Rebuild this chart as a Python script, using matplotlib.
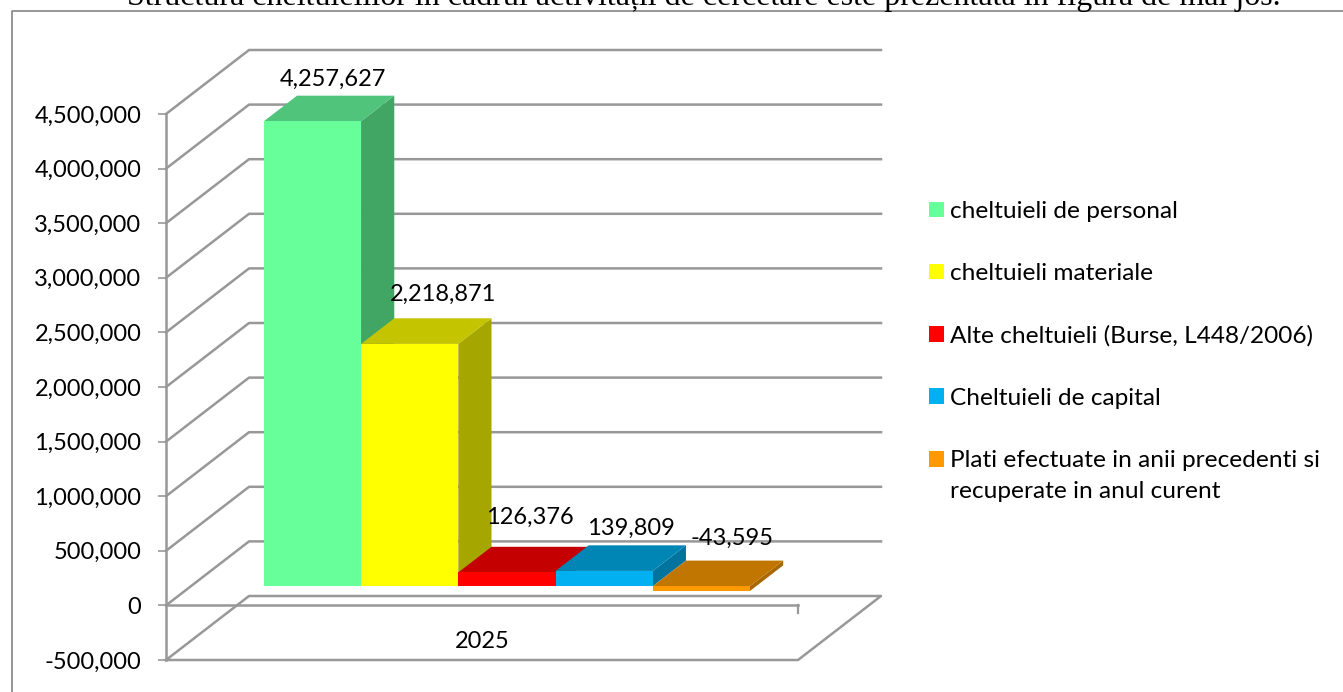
import matplotlib
matplotlib.use("Agg")
import matplotlib.pyplot as plt
from matplotlib.legend_handler import HandlerPatch
from matplotlib.patches import Patch, Polygon, Rectangle

# Data
years = ["2025"]
series_names = [
    "cheltuieli de personal",
    "cheltuieli materiale",
    "Alte cheltuieli (Burse, L448/2006)",
    "Cheltuieli de capital",
    "Plati efectuate in anii precedenti si\nrecuperate in anul curent",
]
values = [4257627, 2218871, 126376, 139809, -43595]
y_ticks = [-500000, 0, 500000, 1000000, 1500000, 2000000, 2500000, 3000000, 3500000, 4000000, 4500000]
page_text = "Structura cheltuielilor în cadrul activității de cercetare este prezentată în figura de mai jos."

# front, top and side colours of each bar
front_colors = ["#66FF99", "#FFFF00", "#FF0000", "#00B0F0", "#FF9900"]
top_colors = ["#50C47B", "#C4C400", "#C40000", "#0086B4", "#C07600"]
side_colors = ["#41A564", "#A6A600", "#A60000", "#00749F", "#A86700"]

# label shift from the bar's front top centre, in pixels
label_shift = [(20, 42), (33, 50), (23, 55), (27, 43), (31, 48)]

GRID = "#989898"
W, H = 1343, 692

plt.rcParams["font.family"] = ["Lato", "DejaVu Sans"]

fig = plt.figure(figsize=(W / 100, H / 100), dpi=100)

# axes box is the front plane of the 3D chart
ax = fig.add_axes([166 / W, 1 - 660 / H, (798 - 166) / W, (660 - 114) / H])
ax.set_xlim(0, 6.5)
ax.set_ylim(-500000, 4500000)
ax.patch.set_visible(False)

# oblique depth: d=0 front, d=1 back wall
DX = 83 / 97.2
DY = 64 / 54.6 * 500000


def proj(x, v, d):
    return x + d * DX, v + d * DY


def line(pts, lw=1.8, zorder=1):
    xs = [p[0] for p in pts]
    ys = [p[1] for p in pts]
    ax.plot(xs, ys, color=GRID, lw=lw, clip_on=False, zorder=zorder, solid_capstyle="projecting")


# gridlines on side wall and back wall
for t in y_ticks[1:]:
    line([proj(0, t, 0), proj(0, t, 1), proj(6.5, t, 1)])

# floor
bottom = y_ticks[0]
line([proj(0, bottom, 0), proj(6.5, bottom, 0), proj(6.5, bottom, 1), proj(0, bottom, 1), proj(0, bottom, 0)])
# front edge at zero, with the end tick
line([proj(0, 0, 0), proj(6.5, 0, 0)])
ax.plot([6.5, 6.5], [0, -73000], color=GRID, lw=1.6, clip_on=False, zorder=1)

# bars, from left to right
D0, D1 = 0.3, 0.7
for i, v in enumerate(values):
    x0 = 0.75 + i
    x1 = x0 + 1
    hi = max(v, 0)
    lo = min(v, 0)
    side = [proj(x1, lo, D0), proj(x1, hi, D0), proj(x1, hi, D1), proj(x1, lo, D1)]
    top = [proj(x0, hi, D0), proj(x1, hi, D0), proj(x1, hi, D1), proj(x0, hi, D1)]
    front = [proj(x0, lo, D0), proj(x1, lo, D0), proj(x1, hi, D0), proj(x0, hi, D0)]
    ax.add_patch(Polygon(side, fc=side_colors[i], ec="none", clip_on=False, zorder=3))
    ax.add_patch(Polygon(top, fc=top_colors[i], ec="none", clip_on=False, zorder=3))
    ax.add_patch(Polygon(front, fc=front_colors[i], ec="none", clip_on=False, zorder=3))
    ax.annotate(f"{v:,}", xy=proj(x0 + 0.5, hi, D0),
                xytext=(label_shift[i][0] * 0.72, label_shift[i][1] * 0.72),
                textcoords="offset points", ha="center", va="center",
                fontsize=17, color="black", zorder=5, annotation_clip=False)

# axis
for s in ["top", "right", "bottom"]:
    ax.spines[s].set_visible(False)
ax.spines["left"].set_color(GRID)
ax.spines["left"].set_linewidth(1.8)
ax.set_yticks(y_ticks)
ax.set_yticklabels([f"{t:,}" for t in y_ticks], fontsize=17)
ax.tick_params(axis="y", length=5.8, width=1.2, color=GRID, pad=12)
ax.set_xticks([])
ax.text(3.25, -330000, years[0], ha="center", va="center", fontsize=17, color="black")


# the marker of the two-line entry sits next to its first line
def first_line_patch(legend, orig_handle, xdescent, ydescent, width, height, fontsize):
    return Rectangle((-xdescent, -ydescent + 16.5 * 0.72), width, height)


handles = [Patch(fc=c, ec="none") for c in front_colors]
leg = fig.legend(handles, series_names, loc="upper left", bbox_to_anchor=(929 / W, 1 - 201 / H),
                 fontsize=17.6, frameon=False, handlelength=0.61, handleheight=0.61,
                 handletextpad=0.25, labelspacing=1.68, borderpad=0, borderaxespad=0,
                 handler_map={handles[-1]: HandlerPatch(patch_func=first_line_patch)})
for t in leg.get_texts():
    t.set_linespacing(1.6)

# chart frame and the line of page text cut off above it
fig.add_artist(plt.Line2D([12 / W, 12 / W, 1], [0, 1 - 10.5 / H, 1 - 10.5 / H], color="#8f8f8f", lw=1.3))
fig.text(127 / W, 1 - 4.5 / H, page_text, family="Liberation Serif", fontsize=23.05, color="black",
         ha="left", va="baseline")

fig.savefig("out.png", dpi=100)
